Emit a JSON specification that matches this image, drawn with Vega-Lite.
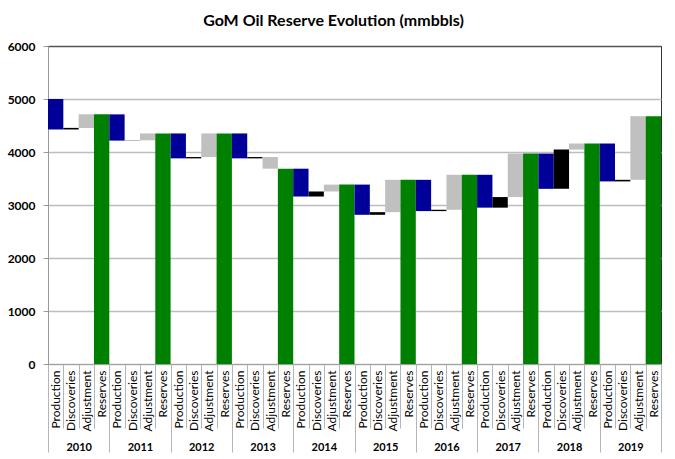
{
  "$schema": "https://vega.github.io/schema/vega-lite/v6.json",
  "width": 613,
  "height": 318,
  "autosize": {"type": "none"},
  "padding": {"left": 48, "top": 46, "right": 14, "bottom": 95},
  "background": "white",
  "title": {"text": "GoM Oil Reserve Evolution (mmbbls)", "font": "Lato", "fontSize": 16, "fontWeight": "bold", "color": "#000000", "anchor": "middle", "dx": -21, "offset": 11},
  "config": {"view": {"stroke": "#333333", "strokeWidth": 1}, "font": "Lato"},
  "data": {"values": [
    {"year": 2010, "cat": "Production", "key": "2010|Production", "start": 5000, "end": 4425},
    {"year": 2010, "cat": "Discoveries", "key": "2010|Discoveries", "start": 4425, "end": 4455},
    {"year": 2010, "cat": "Adjustment", "key": "2010|Adjustment", "start": 4455, "end": 4710},
    {"year": 2010, "cat": "Reserves", "key": "2010|Reserves", "start": 0, "end": 4710},
    {"year": 2011, "cat": "Production", "key": "2011|Production", "start": 4710, "end": 4215},
    {"year": 2011, "cat": "Discoveries", "key": "2011|Discoveries", "start": 4215, "end": 4220},
    {"year": 2011, "cat": "Adjustment", "key": "2011|Adjustment", "start": 4220, "end": 4350},
    {"year": 2011, "cat": "Reserves", "key": "2011|Reserves", "start": 0, "end": 4350},
    {"year": 2012, "cat": "Production", "key": "2012|Production", "start": 4350, "end": 3880},
    {"year": 2012, "cat": "Discoveries", "key": "2012|Discoveries", "start": 3880, "end": 3905},
    {"year": 2012, "cat": "Adjustment", "key": "2012|Adjustment", "start": 3905, "end": 4350},
    {"year": 2012, "cat": "Reserves", "key": "2012|Reserves", "start": 0, "end": 4350},
    {"year": 2013, "cat": "Production", "key": "2013|Production", "start": 4350, "end": 3880},
    {"year": 2013, "cat": "Discoveries", "key": "2013|Discoveries", "start": 3880, "end": 3905},
    {"year": 2013, "cat": "Adjustment", "key": "2013|Adjustment", "start": 3905, "end": 3685},
    {"year": 2013, "cat": "Reserves", "key": "2013|Reserves", "start": 0, "end": 3685},
    {"year": 2014, "cat": "Production", "key": "2014|Production", "start": 3685, "end": 3160},
    {"year": 2014, "cat": "Discoveries", "key": "2014|Discoveries", "start": 3160, "end": 3255},
    {"year": 2014, "cat": "Adjustment", "key": "2014|Adjustment", "start": 3255, "end": 3385},
    {"year": 2014, "cat": "Reserves", "key": "2014|Reserves", "start": 0, "end": 3385},
    {"year": 2015, "cat": "Production", "key": "2015|Production", "start": 3385, "end": 2815},
    {"year": 2015, "cat": "Discoveries", "key": "2015|Discoveries", "start": 2815, "end": 2865},
    {"year": 2015, "cat": "Adjustment", "key": "2015|Adjustment", "start": 2865, "end": 3475},
    {"year": 2015, "cat": "Reserves", "key": "2015|Reserves", "start": 0, "end": 3475},
    {"year": 2016, "cat": "Production", "key": "2016|Production", "start": 3475, "end": 2885},
    {"year": 2016, "cat": "Discoveries", "key": "2016|Discoveries", "start": 2885, "end": 2910},
    {"year": 2016, "cat": "Adjustment", "key": "2016|Adjustment", "start": 2910, "end": 3570},
    {"year": 2016, "cat": "Reserves", "key": "2016|Reserves", "start": 0, "end": 3570},
    {"year": 2017, "cat": "Production", "key": "2017|Production", "start": 3570, "end": 2950},
    {"year": 2017, "cat": "Discoveries", "key": "2017|Discoveries", "start": 2950, "end": 3150},
    {"year": 2017, "cat": "Adjustment", "key": "2017|Adjustment", "start": 3150, "end": 3970},
    {"year": 2017, "cat": "Reserves", "key": "2017|Reserves", "start": 0, "end": 3970},
    {"year": 2018, "cat": "Production", "key": "2018|Production", "start": 3970, "end": 3305},
    {"year": 2018, "cat": "Discoveries", "key": "2018|Discoveries", "start": 3305, "end": 4045},
    {"year": 2018, "cat": "Adjustment", "key": "2018|Adjustment", "start": 4045, "end": 4160},
    {"year": 2018, "cat": "Reserves", "key": "2018|Reserves", "start": 0, "end": 4160},
    {"year": 2019, "cat": "Production", "key": "2019|Production", "start": 4160, "end": 3445},
    {"year": 2019, "cat": "Discoveries", "key": "2019|Discoveries", "start": 3445, "end": 3475},
    {"year": 2019, "cat": "Adjustment", "key": "2019|Adjustment", "start": 3475, "end": 4675},
    {"year": 2019, "cat": "Reserves", "key": "2019|Reserves", "start": 0, "end": 4675}
  ]},
  "layer": [
    {
      "mark": {"type": "bar"},
      "encoding": {
        "x": {
          "field": "key", "type": "ordinal", "sort": null,
          "scale": {"type": "band", "paddingInner": 0, "paddingOuter": 0},
          "axis": {
            "title": null, "orient": "bottom",
            "labelExpr": "split(datum.value, '|')[1]",
            "labelAngle": 270, "labelAlign": "right", "labelBaseline": "middle",
            "labelFont": "Lato", "labelFontSize": 12, "labelColor": "#000000",
            "labelOverlap": false, "labelBound": false, "labelFlush": false,
            "tickBand": "extent", "tickSize": 64, "tickColor": "#b5b5b5", "tickWidth": 1,
            "labelPadding": -58, "domainColor": "#a0a0a0", "grid": false
          }
        },
        "y": {
          "field": "start", "type": "quantitative",
          "scale": {"domain": [0, 6000], "nice": false},
          "axis": {
            "title": null, "values": [0, 1000, 2000, 3000, 4000, 5000, 6000], "format": "d",
            "labelFont": "Lato", "labelFontSize": 12, "labelFontWeight": "bold", "labelColor": "#000000",
            "tickSize": 5, "tickColor": "#999999", "domainColor": "#999999", "labelPadding": 8,
            "grid": true,
            "gridColor": {"condition": {"test": "datum.value === 6000", "value": "#555555"}, "value": "#bdbdbd"},
            "gridWidth": 1.5
          }
        },
        "y2": {"field": "end"},
        "color": {
          "field": "cat", "type": "nominal",
          "scale": {"domain": ["Production", "Discoveries", "Adjustment", "Reserves"], "range": ["#000099", "#000000", "#c0c0c0", "#008000"]},
          "legend": null
        }
      }
    },
    {
      "mark": {"type": "bar", "opacity": 0},
      "encoding": {
        "x": {
          "field": "year", "type": "ordinal",
          "scale": {"type": "band", "paddingInner": 0, "paddingOuter": 0},
          "axis": {
            "title": null, "orient": "bottom",
            "labelFont": "Lato", "labelFontSize": 11, "labelFontWeight": "bold", "labelColor": "#000000",
            "labelAngle": 0, "labelBaseline": "top",
            "tickBand": "extent", "tickSize": 88, "tickColor": "#b5b5b5", "tickWidth": 1,
            "labelPadding": -11, "domain": false, "grid": false
          }
        }
      }
    }
  ],
  "resolve": {"scale": {"x": "independent"}, "axis": {"x": "independent"}}
}
